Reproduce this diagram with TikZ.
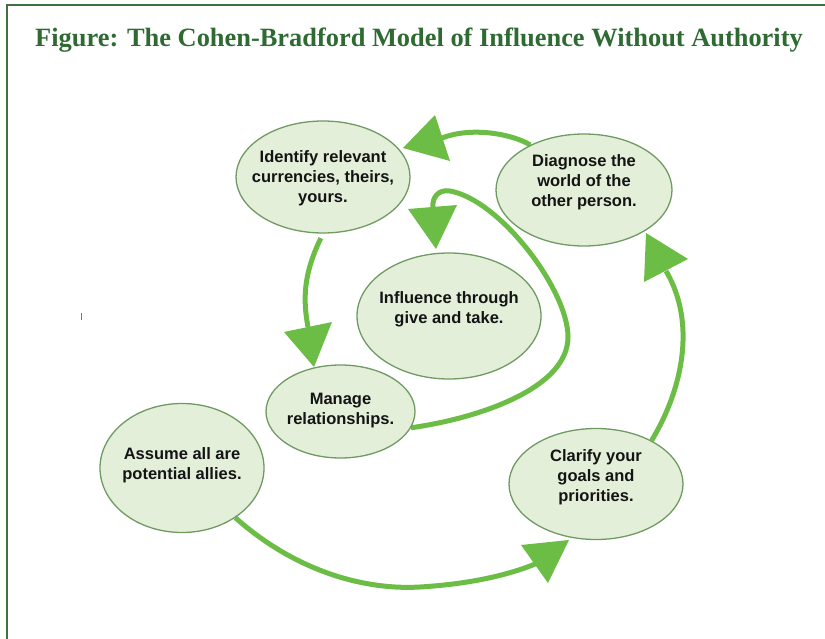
\documentclass[tikz,border=0pt]{standalone}
\usepackage{fontspec}
\setmainfont{Liberation Serif}
\setsansfont{Liberation Sans}
\usetikzlibrary{shapes.geometric,backgrounds}
\definecolor{framegreen}{HTML}{3E7042}
\definecolor{titlegreen}{HTML}{2F6A33}
\definecolor{bubfill}{HTML}{E4EFDA}
\definecolor{bubline}{HTML}{6F9A62}
\definecolor{flow}{HTML}{6BBD45}
\definecolor{tickgreen}{HTML}{3C9A52}

\begin{document}
\begin{tikzpicture}[x=1pt,y=-1pt,
  bub/.style={ellipse, draw=bubline, line width=1.3pt, fill=bubfill, inner sep=0pt},
  txt/.style={align=center, font=\sffamily\bfseries\fontsize{16.5}{20}\selectfont, text=black!92},
  flowline/.style={draw=flow, line width=5pt},
  head/.style={fill=flow}]

\useasboundingbox (0,0) rectangle (825,639);

% outer frame (open to the right and bottom)
\draw[framegreen, line width=2pt] (7,645) -- (7,5) -- (830,5);

% title
\node[anchor=base, text=titlegreen, font=\bfseries\fontsize{26.4}{30}\selectfont, inner sep=0pt]
  (title) at (419,47) {Figure: The Cohen-Bradford Model of Influence Without Authority};

% small stray mark
\draw[tickgreen, line width=1pt] (81,313) -- (81,320);

% the six steps
\node[bub, minimum width=174pt, minimum height=112pt,
  label={[txt, yshift=-1pt]center:{Identify relevant\\currencies, theirs,\\yours.}}] (ident) at (323,177) {};
\node[bub, minimum width=176pt, minimum height=112pt,
  label={[txt, yshift=8pt]center:{Diagnose the\\world of the\\other person.}}] (diag) at (584,190) {};
\node[bub, minimum width=184pt, minimum height=126pt,
  label={[txt, yshift=7pt]center:{Influence through\\give and take.}}] (infl) at (449,316) {};
\node[bub, minimum width=149pt, minimum height=93pt,
  label={[txt, yshift=1pt]center:{Manage\\relationships.}}] (manage) at (340.5,411.5) {};
\node[bub, minimum width=164pt, minimum height=129pt,
  label={[txt, yshift=3pt]center:{Assume all are\\potential allies.}}] (assume) at (182,468) {};
\node[bub, minimum width=174pt, minimum height=111pt,
  label={[txt, yshift=7pt]center:{Clarify your\\goals and\\priorities.}}] (clar) at (596,484) {};

% arrow heads: base midpoints and triangle corners
\coordinate (h1) at (442,138);
\coordinate (h2) at (666,271);
\coordinate (h3) at (540,562);
\coordinate (h4) at (308,327);
\coordinate (h5) at (433,207);

\begin{scope}[on background layer]
  % Assume -> Clarify
  \draw[flowline] (assume.-43) .. controls (300,575) and (370,590) .. (420,587)
                               .. controls (470,584) and (510,575) .. (h3);
  % Clarify -> Diagnose
  \draw[flowline] (clar.38) .. controls (685,385) and (695,320) .. (h2);
  % Diagnose -> Identify
  \draw[flowline] (diag.140) .. controls (510,133) and (470,127) .. (h1);
  % Identify -> Manage
  \draw[flowline, shorten <=5pt] (ident.south) .. controls (303,275) and (303,300) .. (h4);
  % Manage -> Influence
  \draw[flowline] (manage.-13) .. controls (480,418) and (568,388) .. (568,337)
                               .. controls (568,290) and (500,200) .. (450,191)
                               .. controls (438,189) and (432,198) .. (h5);
\end{scope}

\fill[head] (403,148) -- (435,115) -- (450,161) -- cycle;
\fill[head] (646,233) -- (644,282) -- (688,259) -- cycle;
\fill[head] (548,583) -- (521,545) -- (569,540) -- cycle;
\fill[head] (314,367) -- (284,332) -- (332,322) -- cycle;
\fill[head] (436,249) -- (408,209) -- (457,205) -- cycle;

\end{tikzpicture}
\end{document}
